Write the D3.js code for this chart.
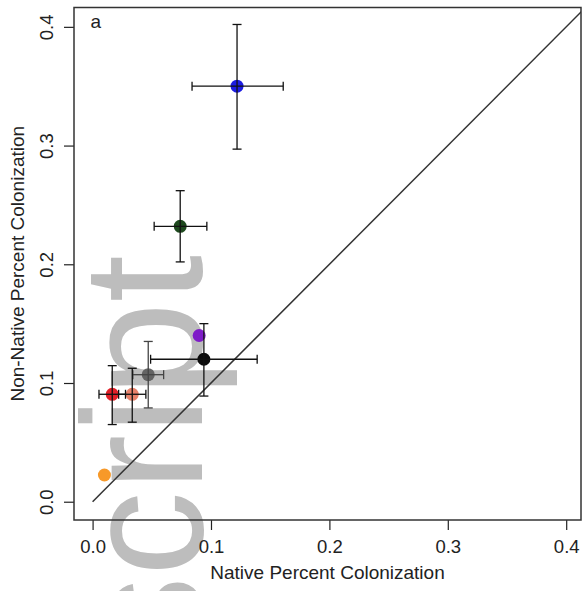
<!DOCTYPE html>
<html>
<head>
<meta charset="utf-8">
<script src="https://cdn.jsdelivr.net/npm/d3@7"></script>
<style>
  body { margin: 0; background: #fff; }
  svg { display: block; font-family: "Liberation Sans", Arial, sans-serif; }
</style>
</head>
<body>
<svg width="584" height="591"></svg>
<script>
// mean colonisation per group, native (x) vs non-native (y)
const nativeMean    = [0.122, 0.074, 0.090, 0.094, 0.047, 0.0166, 0.0335, 0.010];
const nonNativeMean = [0.350, 0.232, 0.140, 0.120, 0.107, 0.0905, 0.0905, 0.0225];
// error bar ends (null = no bar drawn)
const nativeLo    = [0.084, 0.052, null, 0.049, 0.034, 0.0054, 0.022, null];
const nativeHi    = [0.161, 0.0965, null, 0.139, 0.060, 0.0278, 0.045, null];
const nonNativeLo = [0.297, 0.202, null, 0.089, 0.079, 0.065, 0.067, null];
const nonNativeHi = [0.402, 0.262, null, 0.150, 0.135, 0.1146, 0.1124, null];

const pointColors = ['#1010e0', '#123f12', '#7a12c8', '#000000', '#5e5e5e', '#e0141c', '#e77a62', '#f7941d'];
const barColors   = ['#111', '#111', '#111', '#111', '#444', '#111', '#111', '#111'];

const xTicks = [0.0, 0.1, 0.2, 0.3, 0.4];
const yTicks = [0.0, 0.1, 0.2, 0.3, 0.4];
const xTitle = 'Native Percent Colonization';
const yTitle = 'Non-Native Percent Colonization';
const panelLabel = 'a';

function drawChart() {
    const svg = d3.select('svg');

    const box = { left: 74, right: 581, top: 7.5, bottom: 520 };

    const scX = d3.scaleLinear().domain([-0.0157, 0.4125]).range([box.left, box.right]);
    const scY = d3.scaleLinear().domain([-0.0154, 0.4163]).range([box.bottom, box.top]);

    // watermark behind the plot
    svg.append('text')
        .attr('transform', 'translate(202, 255) rotate(-90)')
        .attr('text-anchor', 'end')
        .style('font-size', '170px')
        .style('fill', '#bdbdbd')
        .text('script');

    svg.append('clipPath').attr('id', 'plotClip')
        .append('rect')
        .attr('x', box.left).attr('y', box.top)
        .attr('width', box.right - box.left).attr('height', box.bottom - box.top);

    // axes
    const axisX = d3.axisBottom(scX).tickValues(xTicks).tickSize(10).tickFormat(d3.format('.1f'));
    const axisY = d3.axisLeft(scY).tickValues(yTicks).tickSize(10).tickFormat(d3.format('.1f'));

    const gx = svg.append('g')
        .attr('transform', `translate(0, ${box.bottom})`)
        .call(axisX);
    gx.select('.domain').remove();
    gx.selectAll('line').attr('stroke', '#222').attr('stroke-width', 1.2);
    gx.selectAll('text')
        .attr('y', 33).attr('dy', 0)
        .style('font-size', '18.5px')
        .style('fill', '#222')
        .style('font-family', '"Liberation Sans", Arial, sans-serif');

    const gy = svg.append('g')
        .attr('transform', `translate(${box.left}, 0)`)
        .call(axisY);
    gy.select('.domain').remove();
    gy.selectAll('line').attr('stroke', '#222').attr('stroke-width', 1.2);
    gy.selectAll('text')
        .attr('x', 0).attr('dy', 0)
        .attr('transform', 'translate(-21.3, 0) rotate(-90)')
        .attr('text-anchor', 'middle')
        .style('font-size', '18.5px')
        .style('fill', '#222')
        .style('font-family', '"Liberation Sans", Arial, sans-serif');

    // axis titles
    svg.append('text')
        .attr('x', (box.left + box.right) / 2)
        .attr('y', 579)
        .attr('text-anchor', 'middle')
        .style('font-size', '19px')
        .style('fill', '#222')
        .text(xTitle);

    svg.append('text')
        .attr('transform', `translate(24, ${(box.top + box.bottom) / 2}) rotate(-90)`)
        .attr('text-anchor', 'middle')
        .style('font-size', '19px')
        .style('fill', '#222')
        .text(yTitle);

    // 1:1 line
    svg.append('line')
        .attr('clip-path', 'url(#plotClip)')
        .attr('x1', scX(0)).attr('y1', scY(0))
        .attr('x2', scX(0.45)).attr('y2', scY(0.45))
        .attr('stroke', '#333')
        .attr('stroke-width', 1.5);

    // points
    const data = nativeMean.map((x, i) => ({
        x: x, y: nonNativeMean[i],
        xLo: nativeLo[i], xHi: nativeHi[i],
        yLo: nonNativeLo[i], yHi: nonNativeHi[i],
        color: pointColors[i], barColor: barColors[i]
    }));

    svg.selectAll('.dot')
        .data(data).enter()
        .append('circle')
        .attr('class', 'dot')
        .attr('cx', d => scX(d.x))
        .attr('cy', d => scY(d.y))
        .attr('r', 6.5)
        .style('fill', d => d.color)
        .style('opacity', 0.95);

    // error bars on top of the points
    const cap = 4.5;
    const withBars = data.filter(d => d.xLo !== null);
    const bars = svg.selectAll('.err')
        .data(withBars).enter()
        .append('g')
        .attr('class', 'err')
        .attr('stroke', d => d.barColor)
        .attr('stroke-width', 1.3);

    bars.append('line')
        .attr('x1', d => scX(d.xLo)).attr('x2', d => scX(d.xHi))
        .attr('y1', d => scY(d.y)).attr('y2', d => scY(d.y));
    bars.append('line')
        .attr('x1', d => scX(d.xLo)).attr('x2', d => scX(d.xLo))
        .attr('y1', d => scY(d.y) - cap).attr('y2', d => scY(d.y) + cap);
    bars.append('line')
        .attr('x1', d => scX(d.xHi)).attr('x2', d => scX(d.xHi))
        .attr('y1', d => scY(d.y) - cap).attr('y2', d => scY(d.y) + cap);

    bars.append('line')
        .attr('x1', d => scX(d.x)).attr('x2', d => scX(d.x))
        .attr('y1', d => scY(d.yLo)).attr('y2', d => scY(d.yHi));
    bars.append('line')
        .attr('x1', d => scX(d.x) - cap).attr('x2', d => scX(d.x) + cap)
        .attr('y1', d => scY(d.yLo)).attr('y2', d => scY(d.yLo));
    bars.append('line')
        .attr('x1', d => scX(d.x) - cap).attr('x2', d => scX(d.x) + cap)
        .attr('y1', d => scY(d.yHi)).attr('y2', d => scY(d.yHi));

    // plot box
    svg.append('rect')
        .attr('x', box.left).attr('y', box.top)
        .attr('width', box.right - box.left).attr('height', box.bottom - box.top)
        .attr('fill', 'none')
        .attr('stroke', '#333')
        .attr('stroke-width', 1.5);

    svg.append('text')
        .attr('x', 90.5)
        .attr('y', 28.3)
        .style('font-size', '19px')
        .style('fill', '#222')
        .text(panelLabel);
}

drawChart();
</script>
</body>
</html>
